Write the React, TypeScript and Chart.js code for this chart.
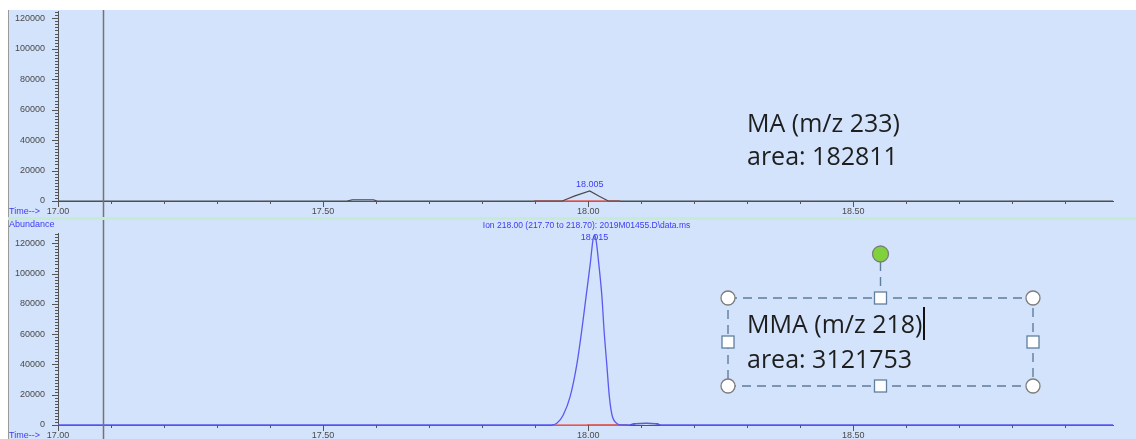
import React, { useEffect, useRef } from 'react';
import { Chart, registerables } from 'chart.js';

Chart.register(...registerables);

// ---------------- data ----------------
const X_MIN = 17.0;
const X_MAX = 18.99;
const CURSOR_TIME = 17.085;
const X_TICK_LABELS = ['17.00', '17.50', '18.00', '18.50'];
const Y_TICK_LABELS = ['0', '20000', '40000', '60000', '80000', '100000', '120000'];
const X_MINOR_STEP = 0.1;
const Y_MINOR_STEP = 2000;
const TOP_Y_MAX = 124800;
const BOTTOM_Y_MAX = 126800;

// upper trace (m/z 233)
const TOP_TIMES = [17.0, 17.545, 17.555, 17.58, 17.595, 17.602, 17.951, 17.975, 18.003, 18.02, 18.038, 18.99];
const TOP_ABUND = [0, 0, 700, 800, 700, 0, 0, 3400, 6600, 3300, 0, 0];
const TOP_BASELINE_TIMES = [17.898, 18.06];
const TOP_PEAK_LABEL = '18.005';
const TOP_TITLE = 'MA (m/z 233)';
const TOP_AREA = 'area: 182811';

// lower trace (m/z 218)
const BOTTOM_TIMES = [17.0, 17.93, 17.941, 17.953, 17.966, 17.979, 17.988, 17.996, 18.004, 18.009, 18.012, 18.015, 18.02, 18.026, 18.03, 18.035, 18.04, 18.045, 18.054, 18.062, 18.079, 18.09, 18.11, 18.13, 18.136, 18.99];
const BOTTOM_ABUND = [0, 0, 1100, 6600, 18700, 40700, 62600, 84600, 106600, 122000, 125300, 122000, 106600, 84600, 62600, 40700, 18700, 6600, 1100, 0, 0, 900, 1100, 800, 0, 0];
const BOTTOM_BUMP_TIMES = [18.079, 18.09, 18.11, 18.13, 18.136];
const BOTTOM_BUMP_ABUND = [0, 900, 1100, 800, 0];
const BOTTOM_BASELINE_TIMES = [17.932, 18.074];
const BOTTOM_BASELINE2_TIMES = [17.998, 18.074];
const BOTTOM_PEAK_LABEL = '18.015';
const BOTTOM_ION_LABEL = 'Ion 218.00 (217.70 to 218.70): 2019M01455.D\\data.ms';
const BOTTOM_TITLE = 'MMA (m/z 218)';
const BOTTOM_AREA = 'area: 3121753';

const AXIS_LABEL_PREFIX = 'Time-->';
const ABUNDANCE_LABEL = 'Abundance';

// ---------------- styles ----------------
const BG = 'rgb(211,227,252)';
const AXIS = '#555555';
const TICK_TEXT = '#4a4a4a';
const BLUE_TEXT = '#3c3cf2';
const SMALL_FONT = "'Liberation Sans', Arial, sans-serif";
const BIG_FONT = "'Open Sans', 'Noto Sans', sans-serif";
const W = 1128;
const TOP_H = 208;
const BOTTOM_H = 221;

const pts = (xs: number[], ys: number[]) => xs.map((x, i) => ({ x, y: ys[i] }));
const flat = (xs: number[]) => xs.map((x) => ({ x, y: 0 }));
const isMult = (v: number, step: number) => Math.abs(v / step - Math.round(v / step)) < 1e-6;

function stepTicks(min: number, max: number, step: number) {
  const out: { value: number }[] = [];
  const n = Math.floor((max - min) / step + 1e-9);
  for (let i = 0; i <= n; i++) out.push({ value: Math.round((min + i * step) * 1e6) / 1e6 });
  return out;
}

function drawAxesExtras(chart: any) {
  const { ctx, chartArea: a } = chart;
  const xs = chart.scales.x;
  const ys = chart.scales.y;
  ctx.save();
  ctx.strokeStyle = AXIS;
  ctx.lineWidth = 1;
  ctx.beginPath();
  xs.ticks.forEach((t: any) => {
    const px = Math.round(xs.getPixelForValue(t.value)) + 0.5;
    const len = isMult(t.value, 0.5) ? 6 : 3;
    ctx.moveTo(px, a.bottom);
    ctx.lineTo(px, a.bottom + len);
  });
  ys.ticks.forEach((t: any) => {
    const py = Math.round(ys.getPixelForValue(t.value)) + 0.5;
    const len = isMult(t.value, 20000) ? 6 : 3;
    ctx.moveTo(a.left - len, py);
    ctx.lineTo(a.left, py);
  });
  ctx.stroke();
  // cursor line
  const cx = Math.round(xs.getPixelForValue(CURSOR_TIME)) + 0.5;
  ctx.strokeStyle = '#737373';
  ctx.lineWidth = 1.5;
  ctx.beginPath();
  ctx.moveTo(cx, 0);
  ctx.lineTo(cx, chart.height);
  ctx.stroke();
  // Time--> label
  ctx.fillStyle = BLUE_TEXT;
  ctx.font = `9px ${SMALL_FONT}`;
  ctx.textAlign = 'left';
  ctx.textBaseline = 'middle';
  ctx.fillText(AXIS_LABEL_PREFIX, 1, a.bottom + 10.5);
  ctx.restore();
}

function bgPlugin(id: string) {
  return {
    id,
    beforeDraw(chart: any) {
      const { ctx, width, height } = chart;
      ctx.save();
      ctx.fillStyle = BG;
      ctx.fillRect(0, 0, width, height);
      ctx.fillStyle = '#9a9a9a';
      ctx.fillRect(0, 0, 1, height);
      ctx.restore();
    },
  };
}

function apexOf(xs: number[], ys: number[]) {
  let k = 0;
  ys.forEach((v, i) => { if (v > ys[k]) k = i; });
  return { x: xs[k], y: ys[k] };
}

function circleHandle(ctx: any, x: number, y: number, r: number, fill: string) {
  ctx.beginPath();
  ctx.arc(x, y, r, 0, Math.PI * 2);
  ctx.fillStyle = fill;
  ctx.fill();
  ctx.strokeStyle = '#7d7d7d';
  ctx.lineWidth = 1.3;
  ctx.stroke();
}

function squareHandle(ctx: any, x: number, y: number, s: number) {
  ctx.fillStyle = '#ffffff';
  ctx.fillRect(x - s / 2, y - s / 2, s, s);
  ctx.strokeStyle = '#5f7f9f';
  ctx.lineWidth = 1.3;
  ctx.strokeRect(x - s / 2, y - s / 2, s, s);
}

const topExtras = {
  id: 'topExtras',
  afterDraw(chart: any) {
    const { ctx, width } = chart;
    drawAxesExtras(chart);
    const xs = chart.scales.x;
    const ys = chart.scales.y;
    ctx.save();
    ctx.fillStyle = '#c3ecd3';
    ctx.fillRect(0, TOP_H - 1, width, 1);
    const ap = apexOf(TOP_TIMES, TOP_ABUND);
    ctx.fillStyle = BLUE_TEXT;
    ctx.font = `9px ${SMALL_FONT}`;
    ctx.textAlign = 'center';
    ctx.textBaseline = 'middle';
    ctx.fillText(TOP_PEAK_LABEL, xs.getPixelForValue(ap.x), ys.getPixelForValue(ap.y) - 6);
    ctx.fillStyle = '#1e1e1e';
    ctx.font = `25px ${BIG_FONT}`;
    ctx.textAlign = 'left';
    ctx.textBaseline = 'alphabetic';
    ctx.fillText(TOP_TITLE, 739, 122);
    ctx.fillText(TOP_AREA, 739, 155);
    ctx.restore();
  },
};

const bottomExtras = {
  id: 'bottomExtras',
  afterDraw(chart: any) {
    const { ctx, width } = chart;
    drawAxesExtras(chart);
    const xs = chart.scales.x;
    const ys = chart.scales.y;
    ctx.save();
    ctx.fillStyle = '#c3ecd3';
    ctx.fillRect(0, 0, width, 2);
    ctx.fillStyle = BLUE_TEXT;
    ctx.font = `9px ${SMALL_FONT}`;
    ctx.textAlign = 'left';
    ctx.textBaseline = 'middle';
    ctx.fillText(ABUNDANCE_LABEL, 1, 6.5);
    const ap = apexOf(BOTTOM_TIMES, BOTTOM_ABUND);
    const apx = xs.getPixelForValue(ap.x);
    const apy = ys.getPixelForValue(ap.y);
    ctx.textAlign = 'center';
    ctx.font = `8.5px ${SMALL_FONT}`;
    ctx.fillText(BOTTOM_ION_LABEL, apx - 8, 8);
    ctx.font = `9px ${SMALL_FONT}`;
    ctx.fillText(BOTTOM_PEAK_LABEL, apx, apy + 2.5);

    // selected text box annotation
    const L = 720, R = 1025, T = 80, B = 168;
    const MX = (L + R) / 2, MY = (T + B) / 2;
    ctx.strokeStyle = '#5f7d9c';
    ctx.lineWidth = 1.4;
    ctx.setLineDash([9, 6]);
    ctx.strokeRect(L, T, R - L, B - T);
    ctx.beginPath();
    ctx.moveTo(MX, 44);
    ctx.lineTo(MX, T - 6);
    ctx.stroke();
    ctx.setLineDash([]);
    ctx.fillStyle = '#1e1e1e';
    ctx.font = `25px ${BIG_FONT}`;
    ctx.textAlign = 'left';
    ctx.textBaseline = 'alphabetic';
    ctx.fillText(BOTTOM_TITLE, 739, 115);
    ctx.fillText(BOTTOM_AREA, 739, 150);
    const tw = ctx.measureText(BOTTOM_TITLE).width;
    ctx.fillStyle = '#111';
    ctx.fillRect(Math.round(739 + tw + 1), 89, 2, 33);
    squareHandle(ctx, MX, T, 12);
    squareHandle(ctx, MX, B, 12);
    squareHandle(ctx, L, MY, 12);
    squareHandle(ctx, R, MY, 12);
    circleHandle(ctx, L, T, 7, '#ffffff');
    circleHandle(ctx, R, T, 7, '#ffffff');
    circleHandle(ctx, L, B, 7, '#ffffff');
    circleHandle(ctx, R, B, 7, '#ffffff');
    circleHandle(ctx, MX, 36, 8, '#7fd23c');
    ctx.restore();
  },
};

function makeOptions(yMax: number, padTop: number, xHeight: number): any {
  return {
    responsive: false,
    maintainAspectRatio: false,
    animation: false,
    devicePixelRatio: 1,
    events: [],
    layout: { padding: { top: padTop, right: 23, left: 0, bottom: 0 }, autoPadding: false },
    plugins: { legend: { display: false }, tooltip: { enabled: false }, title: { display: false } },
    elements: { point: { radius: 0 } },
    scales: {
      x: {
        type: 'linear',
        min: X_MIN,
        max: X_MAX,
        afterBuildTicks: (s: any) => { s.ticks = stepTicks(X_MIN, X_MAX, X_MINOR_STEP); },
        afterFit: (s: any) => { s.height = xHeight; s.paddingLeft = 0; s.paddingRight = 0; s.paddingTop = 0; s.paddingBottom = 0; },
        grid: { drawOnChartArea: false, drawTicks: false },
        border: { display: true, color: AXIS, width: 1 },
        ticks: {
          source: 'data',
          autoSkip: false,
          maxRotation: 0,
          minRotation: 0,
          padding: 5,
          color: TICK_TEXT,
          font: { family: SMALL_FONT, size: 9 },
          callback: (v: any) => {
            const s = Number(v).toFixed(2);
            return X_TICK_LABELS.includes(s) && isMult(Number(v), 0.5) ? s : '';
          },
        },
      },
      y: {
        type: 'linear',
        min: 0,
        max: yMax,
        afterBuildTicks: (s: any) => { s.ticks = stepTicks(0, yMax, Y_MINOR_STEP); },
        afterFit: (s: any) => { s.width = 50; s.paddingTop = 0; s.paddingBottom = 0; s.paddingLeft = 0; s.paddingRight = 0; },
        grid: { drawOnChartArea: false, drawTicks: false },
        border: { display: true, color: AXIS, width: 1 },
        ticks: {
          source: 'data',
          autoSkip: false,
          padding: 13,
          color: TICK_TEXT,
          font: { family: SMALL_FONT, size: 9 },
          callback: (v: any) => {
            const s = String(Math.round(Number(v)));
            return Y_TICK_LABELS.includes(s) && isMult(Number(v), 20000) ? s : '';
          },
        },
      },
    },
  };
}

export default function App() {
  const topRef = useRef<HTMLCanvasElement | null>(null);
  const botRef = useRef<HTMLCanvasElement | null>(null);

  useEffect(() => {
    document.body.style.overflow = 'hidden';
    const top = new Chart(topRef.current as HTMLCanvasElement, {
      type: 'line',
      data: {
        datasets: [
          { data: pts(TOP_TIMES, TOP_ABUND), borderColor: '#4a4a4a', borderWidth: 1.2, tension: 0, clip: false, fill: false },
          { data: flat(TOP_BASELINE_TIMES), borderColor: '#e25a5a', borderWidth: 1.3, tension: 0, clip: false, fill: false },
        ],
      } as any,
      options: makeOptions(TOP_Y_MAX, 1, 17),
      plugins: [bgPlugin('topBg'), topExtras],
    });
    const bottom = new Chart(botRef.current as HTMLCanvasElement, {
      type: 'line',
      data: {
        datasets: [
          { data: pts(BOTTOM_TIMES, BOTTOM_ABUND), borderColor: '#5a5af0', borderWidth: 1.3, cubicInterpolationMode: 'monotone', clip: false, fill: false },
          { data: pts(BOTTOM_BUMP_TIMES, BOTTOM_BUMP_ABUND), borderColor: '#2a2a8c', borderWidth: 1.3, cubicInterpolationMode: 'monotone', clip: false, fill: false },
          { data: flat(BOTTOM_BASELINE_TIMES), borderColor: '#e86a6a', borderWidth: 1.4, tension: 0, clip: false, fill: false },
          { data: flat(BOTTOM_BASELINE2_TIMES), borderColor: '#b83838', borderWidth: 1.4, tension: 0, clip: false, fill: false },
        ],
      } as any,
      options: makeOptions(BOTTOM_Y_MAX, 15, 14),
      plugins: [bgPlugin('botBg'), bottomExtras],
    });
    return () => {
      top.destroy();
      bottom.destroy();
    };
  }, []);

  return (
    <div style={{ position: 'fixed', left: 8, top: 10, width: W, height: TOP_H + BOTTOM_H, overflow: 'hidden', background: BG }}>
      <canvas ref={topRef} width={W} height={TOP_H} style={{ position: 'absolute', left: 0, top: 0, display: 'block' }} />
      <canvas ref={botRef} width={W} height={BOTTOM_H} style={{ position: 'absolute', left: 0, top: TOP_H, display: 'block' }} />
    </div>
  );
}
